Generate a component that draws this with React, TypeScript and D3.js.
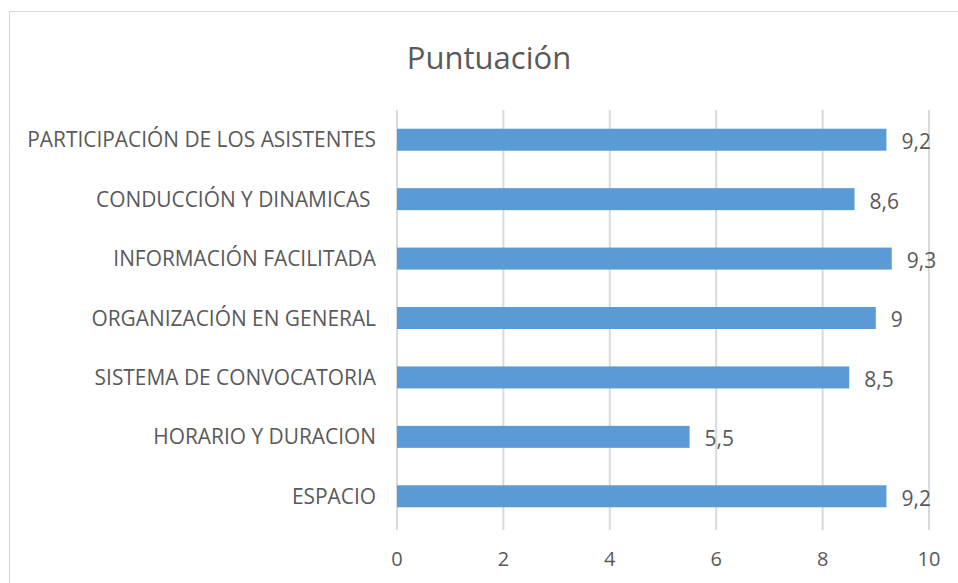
import * as d3 from "d3";

const categories = [
  "PARTICIPACIÓN DE LOS ASISTENTES",
  "CONDUCCIÓN Y DINAMICAS ",
  "INFORMACIÓN FACILITADA",
  "ORGANIZACIÓN EN GENERAL",
  "SISTEMA DE CONVOCATORIA",
  "HORARIO Y DURACION",
  "ESPACIO",
];
const scores = [9.2, 8.6, 9.3, 9, 8.5, 5.5, 9.2];
const xTicks = [0, 2, 4, 6, 8, 10];
const title = "Puntuación";

const W = 958;
const H = 583;
const margin = { top: 110, right: 29, bottom: 56, left: 397 };
const font = "'Open Sans', sans-serif";
const textColor = "#595959";

const App = () => {
  const x = d3
    .scaleLinear()
    .domain([0, 10])
    .range([margin.left, W - margin.right]);
  const y = d3
    .scaleBand()
    .domain(categories)
    .range([margin.top, H - margin.bottom - 1])
    .paddingInner(0.63)
    .paddingOuter(0.315);
  const fmt = (v: number) => String(v).replace(".", ",");

  return (
    <svg
      width={W}
      height={H}
      style={{ position: "absolute", left: 0, top: 0, background: "#fff" }}
    >
      <rect x={9.5} y={11.5} width={W} height={H} fill="#fff" stroke="#d9d9d9" />
      <text
        x={489}
        y={69}
        textAnchor="middle"
        fontFamily={font}
        fontSize={31}
        fill={textColor}
      >
        {title}
      </text>
      {xTicks.map((t) => (
        <g key={t}>
          <line
            x1={x(t)}
            x2={x(t)}
            y1={margin.top}
            y2={H - margin.bottom + 3}
            stroke="#d9d9d9"
            strokeWidth={2}
          />
          <text
            x={x(t)}
            y={566}
            textAnchor="middle"
            fontFamily={font}
            fontSize={20}
            fill={textColor}
          >
            {t}
          </text>
        </g>
      ))}
      {categories.map((c, i) => (
        <g key={c}>
          <rect
            x={x(0)}
            y={y(c)}
            width={x(scores[i]) - x(0)}
            height={y.bandwidth()}
            fill="#5b9bd5"
          />
          <text
            x={376}
            y={(y(c) as number) + y.bandwidth() / 2}
            dy="0.36em"
            textAnchor="end"
            fontFamily={font}
            fontSize={20.9}
            fill={textColor}
            style={{ whiteSpace: "pre" }}
          >
            {c}
          </text>
          <text
            x={x(scores[i]) + 15}
            y={(y(c) as number) + y.bandwidth() / 2}
            dy="0.45em"
            fontFamily={font}
            fontSize={21}
            fill={textColor}
          >
            {fmt(scores[i])}
          </text>
        </g>
      ))}
    </svg>
  );
};

export default App;
